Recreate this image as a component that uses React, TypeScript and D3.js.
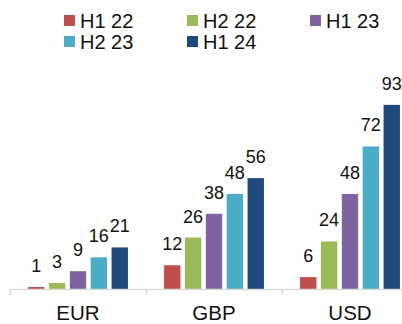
import React from "react";
import * as d3 from "d3";

const categories = ["EUR", "GBP", "USD"];
const seriesNames = ["H1 22", "H2 22", "H1 23", "H2 23", "H1 24"];
const seriesColors = ["#C0504D", "#9BBB59", "#8064A2", "#4BACC6", "#1F497D"];
const valuesEUR = [1, 3, 9, 16, 21];
const valuesGBP = [12, 26, 38, 48, 56];
const valuesUSD = [6, 24, 48, 72, 93];

const values: Record<string, number[]> = {
  EUR: valuesEUR,
  GBP: valuesGBP,
  USD: valuesUSD,
};

const W = 402;
const H = 324;
const FONT = "'Liberation Sans', Arial, sans-serif";

export default function App() {
  const x0 = d3.scaleBand<string>().domain(categories).range([10, 418]).padding(0);
  const x1 = d3
    .scaleBand<string>()
    .domain(seriesNames)
    .range([0, x0.bandwidth()])
    .paddingInner(0.216)
    .paddingOuter(0.865);
  const y = d3.scaleLinear().domain([0, 100]).range([289, 91]);

  const tickXs = [...categories.map((c) => x0(c)!), x0.range()[1]];

  return (
    <svg
      width={W}
      height={H}
      style={{ position: "absolute", left: 0, top: 0, background: "#fff" }}
      fontFamily={FONT}
    >
      {/* legend */}
      {seriesNames.map((name, i) => {
        const col = i % 3;
        const row = Math.floor(i / 3);
        const lx = 64 + col * 123;
        const ly = 15 + row * 21;
        return (
          <g key={name}>
            <rect x={lx} y={ly} width={11} height={11} fill={seriesColors[i]} />
            <text x={lx + 16} y={ly + 12.7} fontSize={20} fill="#111">
              {name}
            </text>
          </g>
        );
      })}

      {/* bars and value labels */}
      {categories.map((cat) => (
        <g key={cat} transform={`translate(${x0(cat)},0)`}>
          {seriesNames.map((s, i) => {
            const v = values[cat][i];
            const bx = x1(s)!;
            const top = y(v);
            return (
              <g key={s}>
                <rect
                  x={bx}
                  y={top}
                  width={x1.bandwidth()}
                  height={y(0) - top}
                  fill={seriesColors[i]}
                />
                <text
                  x={bx + x1.bandwidth() / 2}
                  y={top - 15}
                  fontSize={18}
                  textAnchor="middle"
                  fill="#111"
                >
                  {v}
                </text>
              </g>
            );
          })}
        </g>
      ))}

      {/* category axis */}
      <line x1={10} x2={W} y1={289.5} y2={289.5} stroke="#D9D9D9" strokeWidth={1.5} />
      {tickXs.map((tx, i) => (
        <line key={i} x1={tx} x2={tx} y1={289.5} y2={295} stroke="#D9D9D9" strokeWidth={1.5} />
      ))}
      {categories.map((cat) => (
        <text
          key={cat}
          x={x0(cat)! + x0.bandwidth() / 2}
          y={320}
          fontSize={20.5}
          textAnchor="middle"
          fill="#111"
        >
          {cat}
        </text>
      ))}
    </svg>
  );
}
